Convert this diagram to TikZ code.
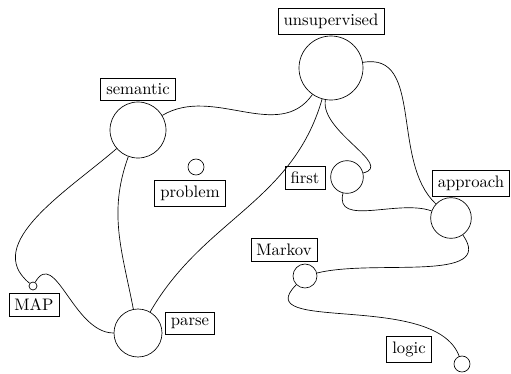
\documentclass[tikz,border=0pt]{standalone}
\usepackage{tikz}

\begin{document}
\begin{tikzpicture}[x=0.6pt,y=0.6pt,
    vertex/.style={circle,draw,inner sep=0pt},
    tag/.style={rectangle,draw}]
  \useasboundingbox (0,0) rectangle (511,-373);
  % circles
  \node[vertex,minimum size=38.4pt] (unsup)  at (331,-68)  {};
  \node[vertex,minimum size=33.6pt] (sem)    at (138,-130) {};
  \node[vertex,minimum size=9.6pt]  (prob)   at (196,-167) {};
  \node[vertex,minimum size=19.6pt] (first)  at (347,-177) {};
  \node[vertex,minimum size=24.4pt] (appr)   at (451,-218) {};
  \node[vertex,minimum size=14.4pt] (markov) at (305,-276) {};
  \node[vertex,minimum size=4.8pt]  (map)    at (33,-286)  {};
  \node[vertex,minimum size=28.8pt] (parse)  at (138,-333) {};
  \node[vertex,minimum size=9.6pt]  (logic)  at (462,-364) {};
  % labels
  \node[tag] (unsup-l)  at (331,-21)  {unsupervised};
  \node[tag] (sem-l)    at (138,-89)  {semantic};
  \node[tag] (prob-l)   at (190,-193) {problem};
  \node[tag] (first-l)  at (305,-178) {first};
  \node[tag] (appr-l)   at (471,-183) {approach};
  \node[tag] (markov-l) at (284,-250) {Markov};
  \node[tag] (map-l)    at (34,-305)  {MAP};
  \node[tag] (parse-l)  at (190,-323) {parse};
  \node[tag] (logic-l)  at (409,-349) {logic};
  % links
  \draw (sem) to[out=31,in=235] (unsup);
  \draw (sem) to[out=221,in=141] (map);
  \draw (sem) to[out=250,in=101] (parse);
  \draw (map) to[out=60,in=180,looseness=1.1] (parse);
  \draw (parse) to[out=60,in=254] (unsup);
  \draw (unsup) to[out=260,in=14] (first);
  \draw (unsup) to[out=10,in=137] (appr);
  \draw (first) to[out=256,in=160] (appr);
  \draw (appr) to[out=305,in=14] (markov);
  \draw (markov) to[out=225,in=110] (logic);
\end{tikzpicture}
\end{document}
